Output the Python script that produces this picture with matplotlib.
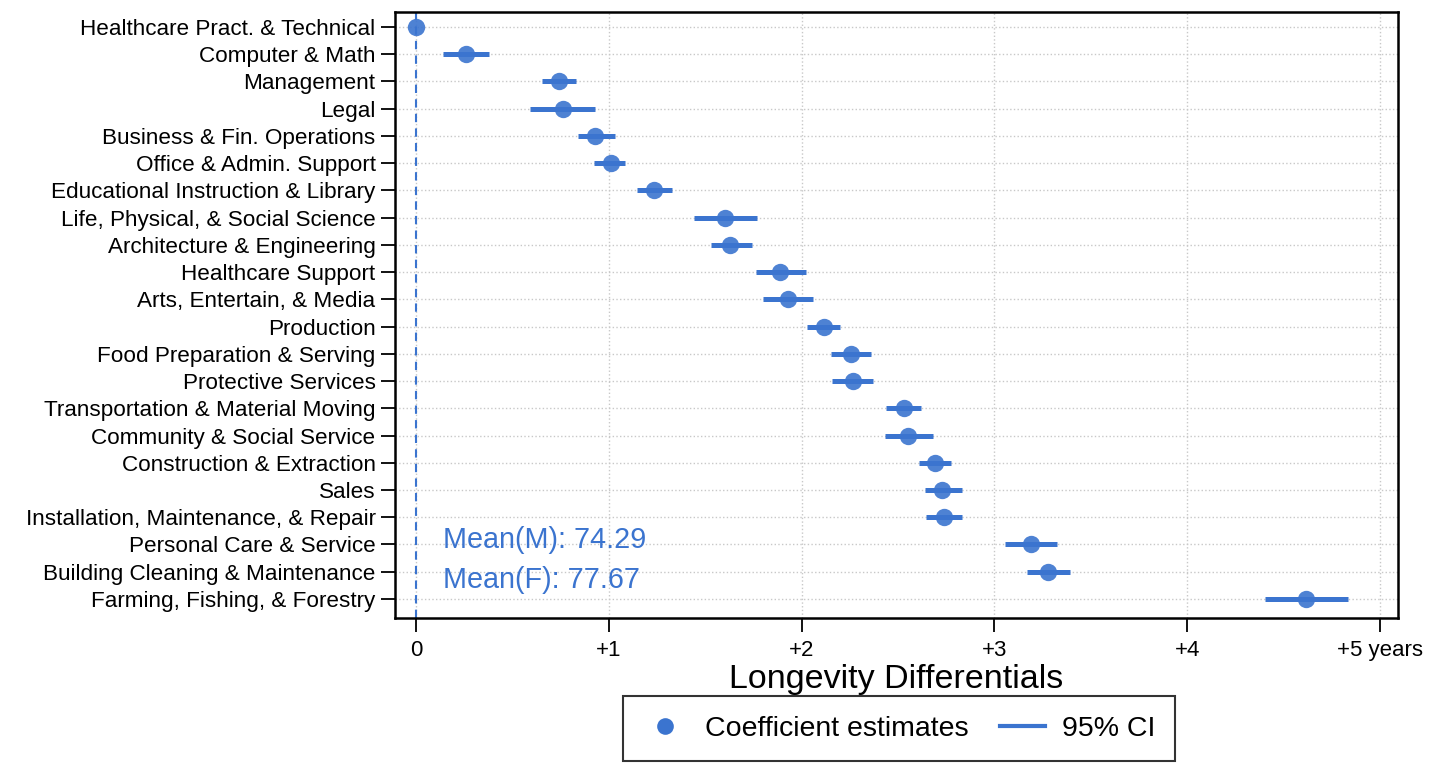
import matplotlib
matplotlib.use("Agg")
import matplotlib.pyplot as plt
from matplotlib.lines import Line2D

categories = [
    "Healthcare Pract. & Technical", "Computer & Math", "Management", "Legal",
    "Business & Fin. Operations", "Office & Admin. Support",
    "Educational Instruction & Library", "Life, Physical, & Social Science",
    "Architecture & Engineering", "Healthcare Support", "Arts, Entertain, & Media",
    "Production", "Food Preparation & Serving", "Protective Services",
    "Transportation & Material Moving", "Community & Social Service",
    "Construction & Extraction", "Sales", "Installation, Maintenance, & Repair",
    "Personal Care & Service", "Building Cleaning & Maintenance",
    "Farming, Fishing, & Forestry",
]
estimates = [0.0, 0.26, 0.74, 0.76, 0.93, 1.01, 1.236, 1.605, 1.63, 1.89, 1.93,
             2.117, 2.257, 2.264, 2.53, 2.554, 2.694, 2.73, 2.736, 3.19, 3.28, 4.615]
ci_low = [0.0, 0.14, 0.655, 0.59, 0.84, 0.925, 1.145, 1.44, 1.53, 1.765, 1.80,
          2.03, 2.15, 2.16, 2.44, 2.43, 2.61, 2.64, 2.645, 3.055, 3.17, 4.405]
ci_high = [0.0, 0.38, 0.83, 0.93, 1.03, 1.085, 1.33, 1.77, 1.74, 2.025, 2.06,
           2.20, 2.36, 2.37, 2.62, 2.68, 2.775, 2.83, 2.834, 3.324, 3.39, 4.835]
xticks = [0, 1, 2, 3, 4, 5]
xtick_labels = ["0", "+1", "+2", "+3", "+4", "+5 years"]
mean_texts = ["Mean(M): 74.29", "Mean(F): 77.67"]

plt.rcParams['font.family'] = ['Liberation Sans', 'DejaVu Sans']
color = '#3b74cf'

fig = plt.figure(figsize=(14.56, 7.65), dpi=100)
ax = fig.add_axes([395/1456, 1-618/765, (1398-395)/1456, (618-12)/765])

y = list(range(len(categories)))
for yi, lo, hi in zip(y, ci_low, ci_high):
    ax.plot([lo, hi], [yi, yi], color=color, lw=3.6, solid_capstyle='butt', zorder=3)
ax.plot(estimates, y, 'o', color=color, ms=12.5, alpha=0.9, markeredgewidth=0, zorder=4)

ax.axvline(0, color=color, lw=1.5, ls=(0, (4, 3)), zorder=2)

ax.set_ylim(len(categories) - 1 + 0.7, -0.55)
ax.set_xlim(-0.109, 5.093)
ax.set_yticks(y)
ax.set_yticklabels(categories, fontsize=16.2)
ax.set_xticks(xticks)
ax.set_xticklabels(xtick_labels, fontsize=16)
ax.tick_params(axis='y', length=10, width=1.3, pad=4)
ax.tick_params(axis='x', length=10, width=1.3, pad=6)
ax.grid(True, color='#c8c8c8', ls=':', lw=1.0, zorder=0)
for s in ax.spines.values():
    s.set_linewidth(1.8)

ax.set_xlabel("Longevity Differentials", fontsize=24.5, labelpad=2)

ax.text(0.14, 18.85, mean_texts[0], color=color, fontsize=20.7, va='center', ha='left')
ax.text(0.14, 20.3, mean_texts[1], color=color, fontsize=20.7, va='center', ha='left')

handles = [
    Line2D([], [], marker='o', color=color, ls='none', ms=12, markeredgewidth=0),
    Line2D([], [], color=color, lw=3),
]
leg = fig.legend(handles, ["Coefficient estimates", "95% CI"], loc='center',
                 bbox_to_anchor=(899/1456, 1-728.5/765), ncol=2, fontsize=20.5,
                 frameon=True, fancybox=False, edgecolor='black', handlelength=1.6,
                 handletextpad=0.6, columnspacing=1.1, borderpad=0.68, borderaxespad=0)
leg.get_frame().set_linewidth(1.5)

fig.savefig("out.png", dpi=100)
